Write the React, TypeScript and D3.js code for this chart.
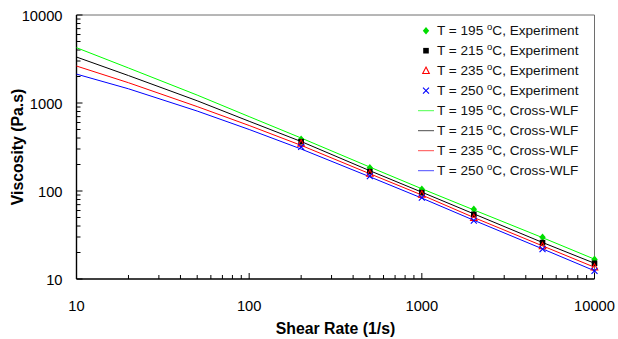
import { useEffect, useRef } from 'react';
import * as d3 from 'd3';

// shear rates used for the model curves and the experiment points
const curveShear = [10, 20, 50, 100, 200, 500, 1000, 2000, 5000, 10000];
const expShear = [200, 500, 1000, 2000, 5000, 10000];

// Cross-WLF curves (Pa.s)
const wlf195 = [4250, 2500, 1230, 700, 400, 187, 106, 61, 29.5, 16.8];
const wlf215 = [3330, 2050, 1060, 620, 365, 170, 97, 55, 26, 15.1];
const wlf235 = [2630, 1700, 910, 555, 330, 157, 90, 50, 23.8, 13.6];
const wlf250 = [2130, 1450, 810, 500, 300, 145, 83, 46.5, 22, 12.4];

// experiment (Pa.s)
const exp195 = [387, 184, 104.5, 62, 29.8, 16.7];
const exp215 = [363, 166, 95.7, 54.3, 25.9, 15.1];
const exp235 = [348, 158, 91.7, 49.7, 23.7, 13.6];
const exp250 = [318, 148, 83.9, 46, 21.9, 12.4];

const temps = ['195', '215', '235', '250'];
const colors = ['#00ff00', '#000000', '#ff0000', '#0000ff'];
const markerColors = ['#00dd00', '#000000', '#ff0000', '#0000ff'];
const majorTicks = [10, 100, 1000, 10000];

type Shape = 'diamond' | 'square' | 'triangle' | 'x';
const shapes: Shape[] = ['diamond', 'square', 'triangle', 'x'];

function drawMarker(
  g: d3.Selection<SVGGElement, unknown, null, undefined>,
  shape: Shape,
  cx: number,
  cy: number,
  color: string
) {
  if (shape === 'diamond') {
    g.append('path')
      .attr('d', `M${cx},${cy - 3.8}L${cx + 3.2},${cy}L${cx},${cy + 3.8}L${cx - 3.2},${cy}Z`)
      .attr('fill', color);
  } else if (shape === 'square') {
    g.append('rect')
      .attr('x', cx - 2.8).attr('y', cy - 2.8)
      .attr('width', 5.6).attr('height', 5.6)
      .attr('fill', color);
  } else if (shape === 'triangle') {
    g.append('path')
      .attr('d', `M${cx},${cy - 3.6}L${cx + 3.3},${cy + 2.8}L${cx - 3.3},${cy + 2.8}Z`)
      .attr('fill', 'none')
      .attr('stroke', color)
      .attr('stroke-width', 1.1);
  } else {
    g.append('path')
      .attr('d', `M${cx - 3},${cy - 3}L${cx + 3},${cy + 3}M${cx - 3},${cy + 3}L${cx + 3},${cy - 3}`)
      .attr('stroke', color)
      .attr('stroke-width', 1.1);
  }
}

export default function App() {
  const svgRef = useRef<SVGSVGElement>(null);

  useEffect(() => {
    document.body.style.margin = '0';
    if (!svgRef.current) return;
    const width = 618;
    const height = 339;
    const left = 76.5, right = 594.5, top = 15, bottom = 279;

    const svg = d3.select(svgRef.current);
    svg.selectAll('*').remove();
    svg.attr('width', width).attr('height', height);

    const g = svg.append('g') as unknown as d3.Selection<SVGGElement, unknown, null, undefined>;
    const font = 'Liberation Sans, Arial, Helvetica, sans-serif';

    const x = d3.scaleLog().domain([10, 10000]).range([left, right]);
    const y = d3.scaleLog().domain([10, 10000]).range([bottom, top]);

    // frame (top / right)
    g.append('line')
      .attr('x1', left).attr('x2', right).attr('y1', top).attr('y2', top)
      .attr('stroke', '#6e6e6e').attr('stroke-width', 1);
    g.append('line')
      .attr('x1', right).attr('x2', right).attr('y1', top).attr('y2', bottom)
      .attr('stroke', '#6e6e6e').attr('stroke-width', 1);

    // ticks
    const allTicks: number[] = [];
    for (let d = 10; d < 10000; d *= 10) {
      for (let k = 1; k < 10; k++) allTicks.push(d * k);
    }
    allTicks.push(10000);

    allTicks.forEach(t => {
      const major = majorTicks.includes(t);
      const len = major ? 6 : 4;
      g.append('line')
        .attr('x1', left).attr('x2', left + len)
        .attr('y1', y(t)).attr('y2', y(t))
        .attr('stroke', '#000').attr('stroke-width', 1);
      g.append('line')
        .attr('x1', x(t)).attr('x2', x(t))
        .attr('y1', bottom).attr('y2', bottom - len)
        .attr('stroke', '#000').attr('stroke-width', 1);
    });

    // axes lines
    g.append('line')
      .attr('x1', left).attr('x2', left).attr('y1', top).attr('y2', bottom)
      .attr('stroke', '#000').attr('stroke-width', 1.4);
    g.append('line')
      .attr('x1', left).attr('x2', right).attr('y1', bottom).attr('y2', bottom)
      .attr('stroke', '#000').attr('stroke-width', 1.4);

    // tick labels
    majorTicks.forEach(t => {
      g.append('text')
        .attr('x', 62.5).attr('y', y(t) + 6)
        .attr('text-anchor', 'end')
        .attr('font-family', font).attr('font-size', 14.7)
        .text(String(t));
      g.append('text')
        .attr('x', x(t)).attr('y', 311)
        .attr('text-anchor', 'middle')
        .attr('font-family', font).attr('font-size', 14.7)
        .text(String(t));
    });

    // axis titles
    g.append('text')
      .attr('x', (left + right) / 2).attr('y', 334)
      .attr('text-anchor', 'middle')
      .attr('font-family', font).attr('font-size', 15.8).attr('font-weight', 'bold')
      .text('Shear Rate (1/s)');
    g.append('text')
      .attr('transform', `translate(23,147) rotate(-90)`)
      .attr('text-anchor', 'middle')
      .attr('font-family', font).attr('font-size', 15.8).attr('font-weight', 'bold')
      .text('Viscosity (Pa.s)');

    // curves
    const wlf = [wlf195, wlf215, wlf235, wlf250];
    const line = d3.line<number>()
      .x((_, i) => x(curveShear[i]))
      .y(d => y(d));
    wlf.forEach((vals, i) => {
      g.append('path')
        .datum(vals)
        .attr('fill', 'none')
        .attr('stroke', colors[i])
        .attr('stroke-width', 1)
        .attr('d', line);
    });

    // experiment markers
    const exp = [exp195, exp215, exp235, exp250];
    exp.forEach((vals, i) => {
      vals.forEach((v, j) => {
        drawMarker(g, shapes[i], x(expShear[j]), y(v), markerColors[i]);
      });
    });

    // legend
    const lx = 426;
    const tx = 437;
    const addLabel = (row: number, temp: string, kind: string) => {
      const t = g.append('text')
        .attr('x', tx).attr('y', 35.3 + row * 20)
        .attr('font-family', font).attr('font-size', 13.6)
        .attr('fill', '#111');
      t.append('tspan').text(`T = ${temp} `);
      t.append('tspan').attr('font-size', 9.5).attr('dy', -5).text('o');
      t.append('tspan').attr('dy', 5).text(`C, ${kind}`);
    };
    temps.forEach((temp, i) => {
      const cy = 30.7 + i * 20;
      drawMarker(g, shapes[i], lx, cy, markerColors[i]);
      addLabel(i, temp, 'Experiment');
    });
    temps.forEach((temp, i) => {
      const row = i + 4;
      const cy = 30.7 + row * 20;
      g.append('line')
        .attr('x1', 418).attr('x2', 434).attr('y1', cy).attr('y2', cy)
        .attr('stroke', colors[i]).attr('stroke-width', 1).attr('stroke-opacity', 0.7);
      addLabel(row, temp, 'Cross-WLF');
    });
  }, []);

  return <svg ref={svgRef} style={{ display: 'block' }} />;
}
